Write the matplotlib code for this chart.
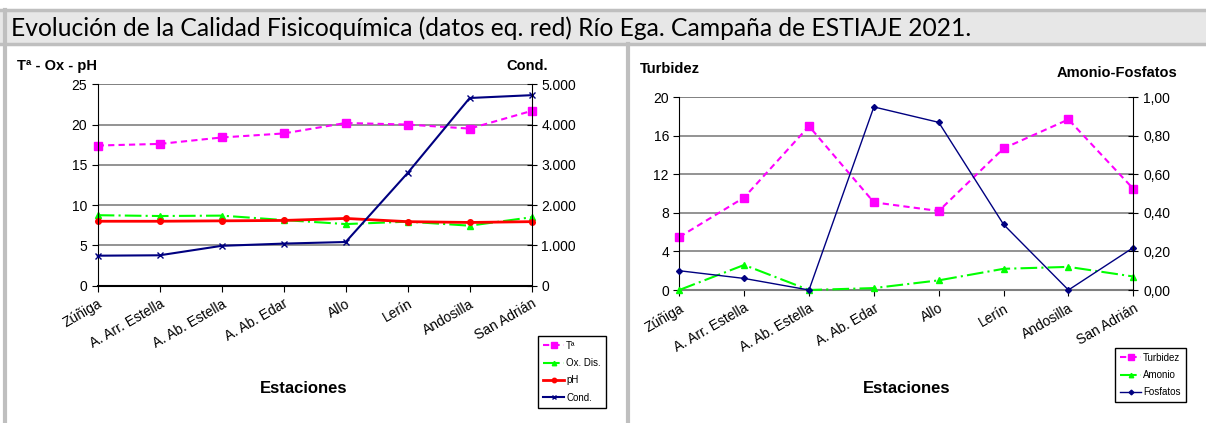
import matplotlib
matplotlib.use('Agg')
import matplotlib.pyplot as plt
from matplotlib.patches import Rectangle
from matplotlib.lines import Line2D
from matplotlib.ticker import FuncFormatter

plt.rcParams['font.family'] = ['Liberation Sans', 'DejaVu Sans']

estaciones = ['Zúñiga', 'A. Arr. Estella', 'A. Ab. Estella', 'A. Ab. Edar',
              'Allo', 'Lerín', 'Andosilla', 'San Adrián']

# left chart
temp = [17.4, 17.6, 18.4, 18.9, 20.2, 20.0, 19.5, 21.7]
oxdis = [8.75, 8.65, 8.7, 8.15, 7.65, 7.95, 7.45, 8.5]
ph = [8.0, 8.0, 8.05, 8.1, 8.35, 7.95, 7.85, 7.95]
cond = [745, 755, 990, 1045, 1085, 2800, 4660, 4730]

# right chart
turbidez = [5.5, 9.6, 17.0, 9.1, 8.2, 14.7, 17.7, 10.5]
amonio = [0.0, 0.13, 0.0, 0.01, 0.05, 0.11, 0.12, 0.07]
fosfatos = [0.10, 0.06, 0.0, 0.95, 0.87, 0.34, 0.0, 0.22]

x = list(range(len(estaciones)))

fig = plt.figure(figsize=(12.06, 4.23), dpi=100)

# frame / title bar
W, H = 1206, 423
def fx(px): return px / W
def fy(py): return 1 - py / H

fig.patches.append(Rectangle((0, fy(44)), 1, fy(10) - fy(44), transform=fig.transFigure,
                             facecolor='#e7e7e7', edgecolor='none', zorder=0))
for yy in (10, 44):
    fig.add_artist(Line2D([0, 1], [fy(yy), fy(yy)], transform=fig.transFigure,
                          color='#bfbfbf', lw=2.5))
fig.add_artist(Line2D([fx(4.5), fx(4.5)], [fy(10), 0], transform=fig.transFigure,
                      color='#bfbfbf', lw=3))
fig.add_artist(Line2D([fx(628), fx(628)], [fy(44), 0], transform=fig.transFigure,
                      color='#bfbfbf', lw=3))
fig.text(fx(11), fy(28), 'Evolución de la Calidad Fisicoquímica (datos eq. red) Río Ega. '
         'Campaña de ESTIAJE 2021.', family=['Lato', 'DejaVu Sans'], fontsize=17.7,
         va='center', ha='left')

grid_col = '#808080'


def style_axes(ax, ax2, spine_col):
    ax.set_xlim(0, 7)
    ax.set_xticks(x)
    ax.set_xticklabels(estaciones, rotation=30, ha='right', rotation_mode='anchor', fontsize=10)
    ax.tick_params(axis='x', direction='out', length=4, pad=4)
    ax.tick_params(axis='y', direction='out', length=4, labelsize=10)
    ax2.tick_params(axis='y', direction='inout', length=7, labelsize=10)
    ax.grid(axis='y', color=grid_col, lw=1.2)
    ax.set_axisbelow(True)
    ax.spines['top'].set_visible(False)
    ax2.spines['top'].set_visible(False)
    ax.spines['bottom'].set_color(spine_col)
    ax.spines['bottom'].set_linewidth(1.5)
    ax2.spines['bottom'].set_visible(False)
    ax2.spines['left'].set_visible(False)
    ax.spines['right'].set_visible(False)


# ---- left chart
ax1 = fig.add_axes([fx(97.7), fy(285.7), fx(531.7) - fx(97.7), fy(84.3) - fy(285.7)])
ax1b = ax1.twinx()
ax1.set_ylim(0, 25)
ax1.set_yticks([0, 5, 10, 15, 20, 25])
ax1b.set_ylim(0, 5000)
ax1b.set_yticks([0, 1000, 2000, 3000, 4000, 5000])
ax1b.yaxis.set_major_formatter(FuncFormatter(lambda v, p: f'{int(v):,}'.replace(',', '.')))
style_axes(ax1, ax1b, 'black')
ax1.axhline(25, color=grid_col, lw=1.2, zorder=0)

l1, = ax1.plot(x, temp, color='#ff00ff', ls=(0, (3, 2)), lw=1.5, marker='s', ms=6,
               clip_on=False, label='Tª')
l2, = ax1.plot(x, oxdis, color='#00ff00', ls=(0, (8, 2, 1, 2)), lw=1.5, marker='^', ms=4,
               clip_on=False, label='Ox. Dis.')
l3, = ax1.plot(x, ph, color='#ff0000', ls='-', lw=2, marker='o', ms=4,
               clip_on=False, label='pH')
l4, = ax1b.plot(x, cond, color='#000080', ls='-', lw=1.5, marker='x', ms=4, mew=1,
                clip_on=False, label='Cond.')

fig.text(fx(17), fy(66), 'Tª - Ox - pH', fontsize=10.5, fontweight='bold', va='center')
fig.text(fx(548), fy(66), 'Cond.', fontsize=10.5, fontweight='bold', va='center', ha='right')
fig.text(fx(304), fy(388), 'Estaciones', fontsize=12, fontweight='bold', va='center', ha='center')

leg1 = fig.legend(handles=[l1, l2, l3, l4], loc='upper left',
                  bbox_to_anchor=(fx(538), fy(336)), fontsize=7, frameon=True,
                  fancybox=False, edgecolor='black', framealpha=1, handlelength=2.2,
                  handletextpad=0.2, labelspacing=0.75, borderpad=0.5, borderaxespad=0,
                  markerscale=0.8)
leg1.get_frame().set_linewidth(1)

# ---- right chart
ax2 = fig.add_axes([fx(679.3), fy(290), fx(1133.3) - fx(679.3), fy(97.3) - fy(290)])
ax2b = ax2.twinx()
ax2.set_ylim(0, 20)
ax2.set_yticks([0, 4, 8, 12, 16, 20])
ax2b.set_ylim(0, 1)
ax2b.set_yticks([0, 0.2, 0.4, 0.6, 0.8, 1.0])
ax2b.yaxis.set_major_formatter(FuncFormatter(lambda v, p: f'{v:.2f}'.replace('.', ',')))
style_axes(ax2, ax2b, '#808080')
ax2.axhline(20, color=grid_col, lw=1.2, zorder=0)

r1, = ax2.plot(x, turbidez, color='#ff00ff', ls=(0, (3, 2)), lw=1.5, marker='s', ms=6,
               clip_on=False, label='Turbidez')
r2, = ax2b.plot(x, amonio, color='#00ff00', ls=(0, (8, 2, 1, 2)), lw=1.5, marker='^', ms=4,
                clip_on=False, label='Amonio')
r3, = ax2b.plot(x, fosfatos, color='#000080', ls='-', lw=1, marker='D', ms=3,
                clip_on=False, label='Fosfatos')

fig.text(fx(640), fy(69), 'Turbidez', fontsize=10.5, fontweight='bold', va='center')
fig.text(fx(1177), fy(73), 'Amonio-Fosfatos', fontsize=10.5, fontweight='bold', va='center',
         ha='right')
fig.text(fx(907), fy(388), 'Estaciones', fontsize=12, fontweight='bold', va='center', ha='center')

leg2 = fig.legend(handles=[r1, r2, r3], loc='upper left',
                  bbox_to_anchor=(fx(1115), fy(348)), fontsize=7, frameon=True,
                  fancybox=False, edgecolor='black', framealpha=1, handlelength=2.2,
                  handletextpad=0.2, labelspacing=0.75, borderpad=0.5, borderaxespad=0,
                  markerscale=0.8)
leg2.get_frame().set_linewidth(1)

fig.savefig('out.png', dpi=100)
